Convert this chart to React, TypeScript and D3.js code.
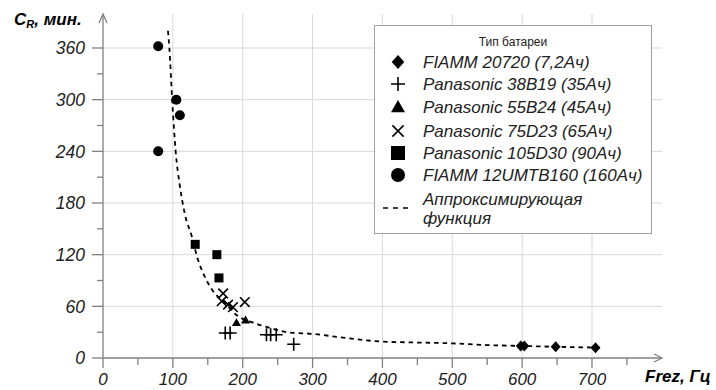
import React from 'react';
import * as d3 from 'd3';

// values
const fiamm20720 = [[598, 14], [603, 14], [648, 13], [705, 12]];
const pana38B19 = [[175, 29], [182, 29], [234, 27], [240, 27], [248, 27], [273, 16]];
const pana55B24 = [[191, 41], [204, 44]];
const pana75D23 = [[172, 75], [170, 66], [179, 62], [186, 59], [203, 65]];
const pana105D30 = [[132, 132], [163, 120], [166, 93]];
const fiamm12UMTB = [[79, 362], [105, 300], [110, 282], [79, 240]];

const fitCurve = [
  [93, 380], [95, 360], [99, 300], [104, 240], [110, 200], [114, 180], [120, 158],
  [125, 147], [136, 114], [146, 94], [158, 77], [172, 66], [191, 50], [215, 41],
  [239, 35], [263, 30], [300, 28], [350, 23], [400, 19], [450, 18], [500, 17],
  [550, 15], [600, 14], [650, 13], [713, 12],
];

const xTicks = [0, 100, 200, 300, 400, 500, 600, 700];
const yTicks = [0, 60, 120, 180, 240, 300, 360];

const legendTitle = 'Тип батареи';
const legendNames = [
  'FIAMM 20720 (7,2Ач)',
  'Panasonic 38B19 (35Ач)',
  'Panasonic 55B24 (45Ач)',
  'Panasonic 75D23 (65Ач)',
  'Panasonic 105D30 (90Ач)',
  'FIAMM 12UMTB160 (160Ач)',
];
const fitName = ['Аппроксимирующая', 'функция'];

const FONT = '"Liberation Sans", Arial, sans-serif';
const AXIS = '#808080';
const GRID = '#d9d9d9';

const x = d3.scaleLinear().domain([0, 700]).range([103, 592]);
const y = d3.scaleLinear().domain([0, 360]).range([358, 48]);

type Kind = 'diamond' | 'plus' | 'triangle' | 'times' | 'square' | 'circle';
const kinds: Kind[] = ['diamond', 'plus', 'triangle', 'times', 'square', 'circle'];
const series = [fiamm20720, pana38B19, pana55B24, pana75D23, pana105D30, fiamm12UMTB];

const Marker = ({ kind, cx, cy, s }: { kind: Kind; cx: number; cy: number; s: number }) => {
  const h = s / 2;
  const t = `translate(${cx},${cy})`;
  if (kind === 'plus') {
    return <path transform={t} d={`M${-h},0H${h}M0,${-h}V${h}`} stroke="#000" strokeWidth={1.6} fill="none" />;
  }
  if (kind === 'times') {
    const k = h * 0.8;
    return <path transform={t} d={`M${-k},${-k}L${k},${k}M${-k},${k}L${k},${-k}`} stroke="#000" strokeWidth={1.6} fill="none" />;
  }
  if (kind === 'diamond') {
    return <path transform={t} d={`M0,${-h}L${h * 0.9},0L0,${h}L${-h * 0.9},0Z`} fill="#000" />;
  }
  if (kind === 'triangle') {
    return <path transform={t} d={`M0,${-h}L${h},${h * 0.75}L${-h},${h * 0.75}Z`} fill="#000" />;
  }
  if (kind === 'square') {
    return <rect x={cx - h} y={cy - h} width={s} height={s} fill="#000" />;
  }
  return <circle cx={cx} cy={cy} r={h} fill="#000" />;
};

const dataSize: Record<Kind, number> = { diamond: 11, plus: 13, triangle: 9, times: 12, square: 9, circle: 10 };

export default function App() {
  const line = d3.line<number[]>()
    .x(d => x(d[0]))
    .y(d => y(d[1]))
    .curve(d3.curveMonotoneX);

  const xMinor = d3.range(0, 800, 50);
  const yMinor = d3.range(0, 390, 30);
  const rowY = [62, 84, 107, 131, 153, 175];

  return (
    <svg width={716} height={390} style={{ position: 'absolute', left: 0, top: 0, background: '#fff' }}>
      {/* grid */}
      <g stroke={GRID} strokeWidth={1}>
        {yTicks.filter(v => v > 0).map(v => (
          <line key={'h' + v} x1={x(0)} x2={662} y1={y(v)} y2={y(v)} />
        ))}
        {xTicks.filter(v => v > 0).map(v => (
          <line key={'v' + v} x1={x(v)} x2={x(v)} y1={y(0)} y2={14} />
        ))}
      </g>

      {/* axes */}
      <g stroke={AXIS} strokeWidth={1.3} fill="none">
        <line x1={x(0)} x2={x(0)} y1={y(0)} y2={14} />
        <path d={`M${x(0) - 4},${23}L${x(0)},${14}L${x(0) + 4},${23}`} />
        <line x1={x(0)} x2={662} y1={y(0)} y2={y(0)} />
        <path d={`M654,${y(0) - 4}L662,${y(0)}L654,${y(0) + 4}`} />
        {yMinor.map(v => (
          <line key={'yt' + v} x1={x(0) - (v % 60 === 0 ? 11 : 6)} x2={x(0)} y1={y(v)} y2={y(v)} />
        ))}
        {xMinor.map(v => (
          <line key={'xt' + v} x1={x(v)} x2={x(v)} y1={y(0)} y2={y(0) + (v % 100 === 0 ? 10 : 7)} />
        ))}
      </g>

      {/* tick labels */}
      <g fontFamily={FONT} fontStyle="italic" fontSize={17.5} fill="#222">
        {yTicks.map(v => (
          <text key={'yl' + v} x={85} y={y(v)} dy="0.36em" textAnchor="end">{v}</text>
        ))}
      </g>
      <g fontFamily={FONT} fontStyle="italic" fontSize={17} fill="#222">
        {xTicks.map(v => (
          <text key={'xl' + v} x={x(v)} y={385} textAnchor="middle">{v}</text>
        ))}
      </g>

      {/* axis titles */}
      <text x={14} y={25} fontFamily={FONT} fontStyle="italic" fontWeight="bold" fontSize={17} fill="#000">
        C<tspan fontSize={11} dy={3}>R</tspan><tspan dy={-3}>, мин.</tspan>
      </text>
      <text x={645} y={382} fontFamily={FONT} fontStyle="italic" fontWeight="bold" fontSize={17} fill="#000">
        Frez, Гц
      </text>

      {/* fit curve */}
      <path d={line(fitCurve) || ''} fill="none" stroke="#000" strokeWidth={1.8} strokeDasharray="4.5,4" />

      {/* data points */}
      {series.map((pts, i) => (
        <g key={'s' + i}>
          {pts.map((p, j) => (
            <Marker key={j} kind={kinds[i]} cx={x(p[0])} cy={y(p[1])} s={dataSize[kinds[i]]} />
          ))}
        </g>
      ))}

      {/* legend */}
      <rect x={374.5} y={25.5} width={277} height={208} fill="#fff" stroke="#a0a0a0" strokeWidth={1} />
      <text x={513} y={42} dy="0.35em" textAnchor="middle" fontFamily={FONT} fontSize={12} fill="#222">
        {legendTitle}
      </text>
      {legendNames.map((name, i) => (
        <g key={'l' + i}>
          <Marker kind={kinds[i]} cx={398} cy={rowY[i]} s={14} />
          <text x={423} y={rowY[i]} dy="0.36em" fontFamily={FONT} fontStyle="italic" fontSize={17} fill="#222">
            {name}
          </text>
        </g>
      ))}
      <line x1={383} x2={412} y1={208} y2={208} stroke="#000" strokeWidth={1.6} strokeDasharray="5,5" />
      <text x={423} y={199} dy="0.36em" fontFamily={FONT} fontStyle="italic" fontSize={17} fill="#222">{fitName[0]}</text>
      <text x={423} y={218} dy="0.36em" fontFamily={FONT} fontStyle="italic" fontSize={17} fill="#222">{fitName[1]}</text>
    </svg>
  );
}
